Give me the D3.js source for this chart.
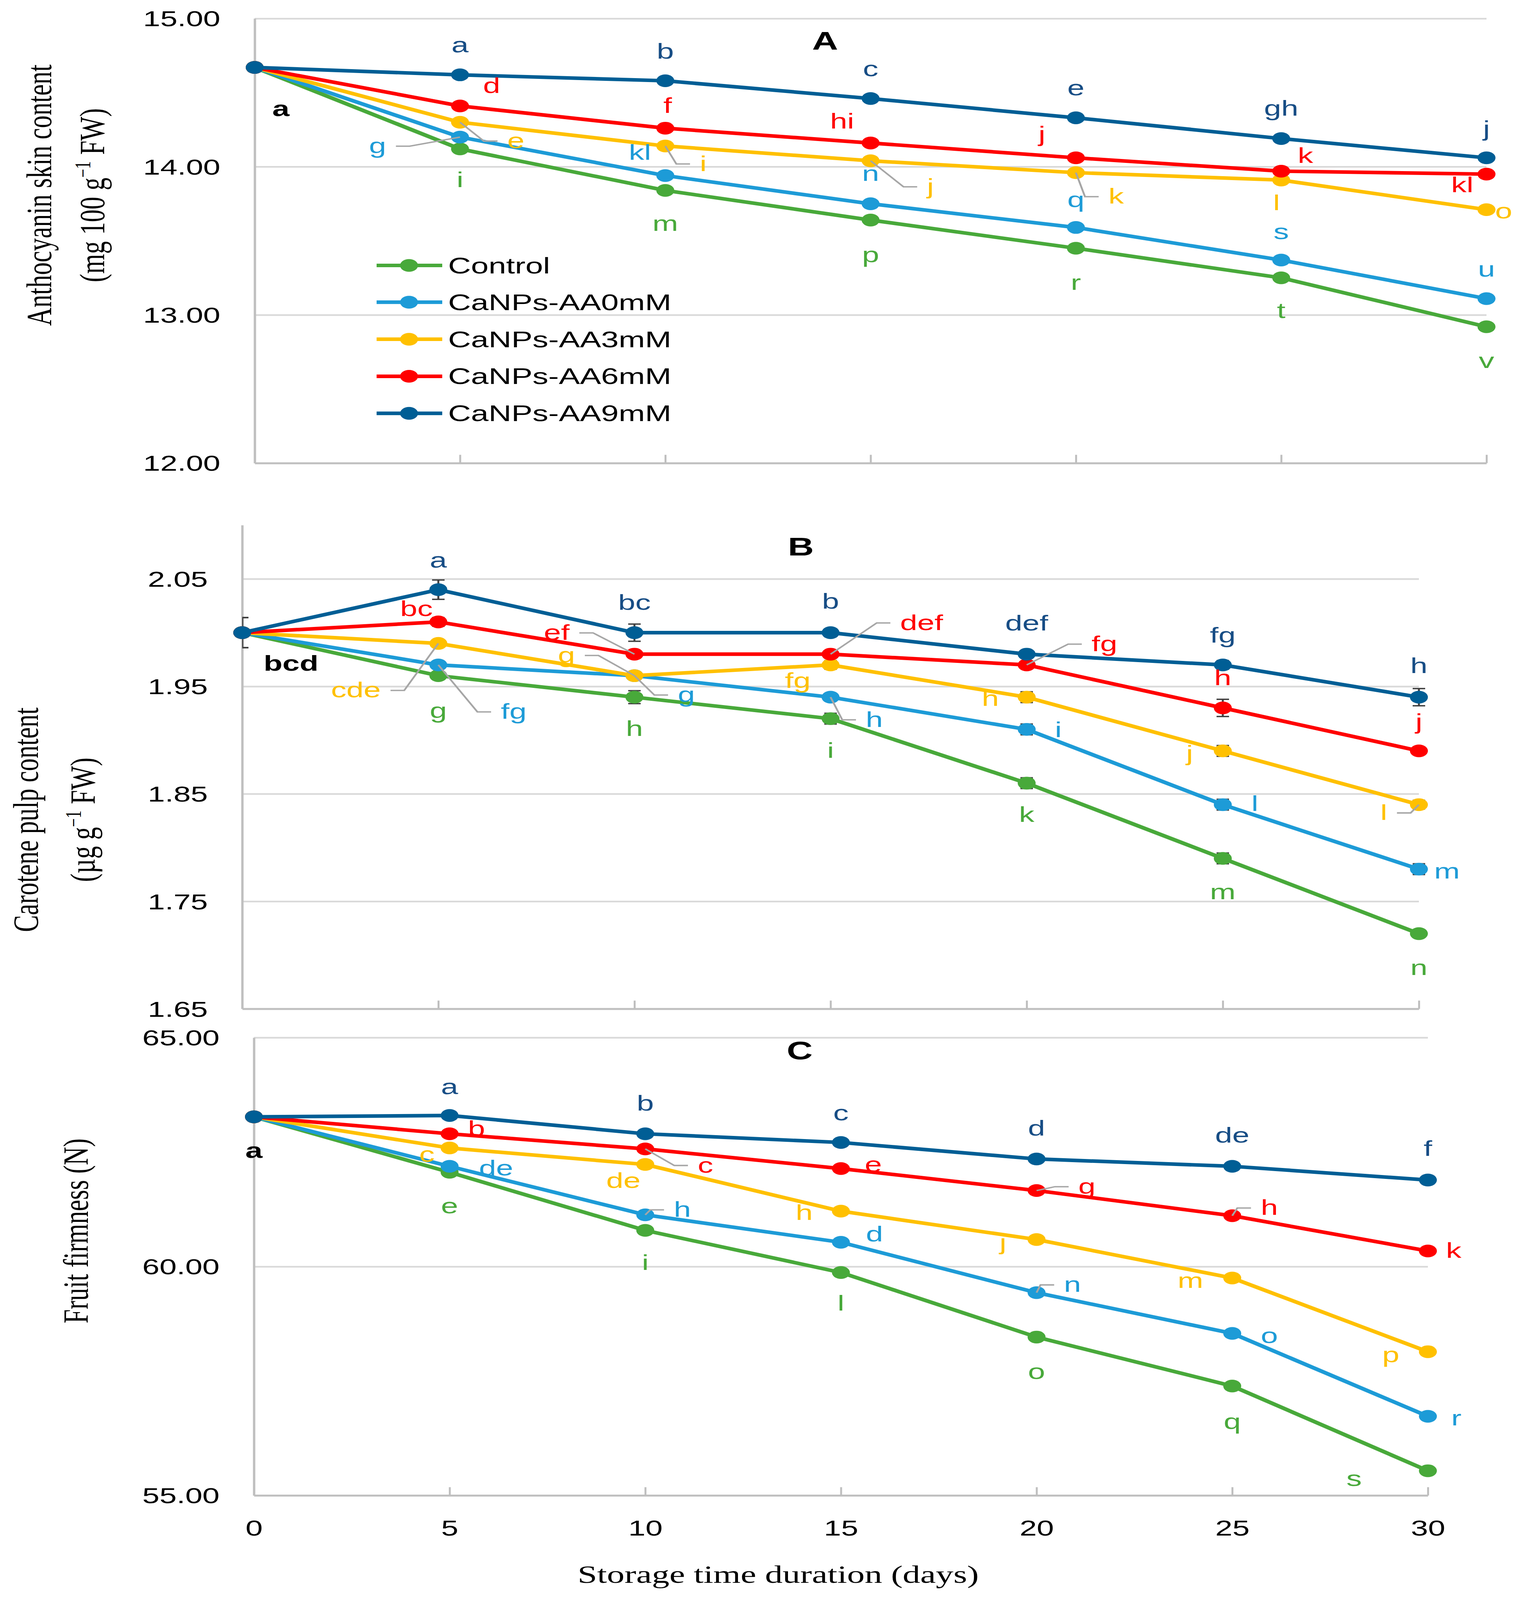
<!DOCTYPE html>
<html>
<head>
<meta charset="utf-8">
<script src="https://cdn.jsdelivr.net/npm/d3@7"></script>
<style>
  html, body { margin: 0; background: #fff; overflow: hidden; }
  svg { display: block; }
</style>
</head>
<body>
<div class="chart"></div>
<script>
// ---- data ----
const days = [0, 5, 10, 15, 20, 25, 30];
const seriesNames = ["Control", "CaNPs-AA0mM", "CaNPs-AA3mM", "CaNPs-AA6mM", "CaNPs-AA9mM"];

// A: anthocyanin skin content (mg 100 g-1 FW)
const anthoControl = [14.67, 14.12, 13.84, 13.64, 13.45, 13.25, 12.92];
const anthoAA0     = [14.67, 14.20, 13.94, 13.75, 13.59, 13.37, 13.11];
const anthoAA3     = [14.67, 14.30, 14.14, 14.04, 13.96, 13.91, 13.71];
const anthoAA6     = [14.67, 14.41, 14.26, 14.16, 14.06, 13.97, 13.95];
const anthoAA9     = [14.67, 14.62, 14.58, 14.46, 14.33, 14.19, 14.06];
const anthoTicks = [12, 13, 14, 15];
const anthoLetters = [
  ["i", "m", "p", "r", "t", "v"],
  ["g", "kl", "n", "q", "s", "u"],
  ["e", "i", "j", "k", "l", "o"],
  ["d", "f", "hi", "j", "k", "kl"],
  ["a", "b", "c", "e", "gh", "j"]
];

// B: carotene pulp content (ug g-1 FW)
const caroControl = [2.00, 1.96, 1.94, 1.92, 1.86, 1.79, 1.72];
const caroAA0     = [2.00, 1.97, 1.96, 1.94, 1.91, 1.84, 1.78];
const caroAA3     = [2.00, 1.99, 1.96, 1.97, 1.94, 1.89, 1.84];
const caroAA6     = [2.00, 2.01, 1.98, 1.98, 1.97, 1.93, 1.89];
const caroAA9     = [2.00, 2.04, 2.00, 2.00, 1.98, 1.97, 1.94];
const caroErrControl = [0.014, 0.003, 0.006, 0.005, 0.005, 0.005, 0.003];
const caroErrAA0     = [0.014, 0.003, 0.003, 0.003, 0.005, 0.005, 0.005];
const caroErrAA3     = [0.014, 0.003, 0.003, 0.004, 0.005, 0.005, 0.004];
const caroErrAA6     = [0.014, 0.004, 0.003, 0.003, 0.003, 0.008, 0.003];
const caroErrAA9     = [0.014, 0.009, 0.008, 0.003, 0.003, 0.004, 0.008];
const caroTicks = [1.65, 1.75, 1.85, 1.95, 2.05];
const caroLetters = [
  ["g", "h", "i", "k", "m", "n"],
  ["fg", "g", "h", "i", "l", "m"],
  ["cde", "g", "fg", "h", "j", "l"],
  ["bc", "ef", "def", "fg", "h", "j"],
  ["a", "bc", "b", "def", "fg", "h"]
];

// C: fruit firmness (N)
const firmControl = [63.27, 62.06, 60.79, 59.87, 58.46, 57.39, 55.54];
const firmAA0     = [63.27, 62.19, 61.13, 60.53, 59.43, 58.54, 56.73];
const firmAA3     = [63.27, 62.59, 62.23, 61.21, 60.59, 59.75, 58.14];
const firmAA6     = [63.27, 62.90, 62.57, 62.14, 61.66, 61.11, 60.34];
const firmAA9     = [63.27, 63.30, 62.90, 62.71, 62.35, 62.19, 61.89];
const firmTicks = [55, 60, 65];
const firmLetters = [
  ["e", "i", "l", "o", "q", "s"],
  ["de", "h", "d", "n", "o", "r"],
  ["c", "de", "h", "j", "m", "p"],
  ["b", "c", "e", "g", "h", "k"],
  ["a", "b", "c", "d", "de", "f"]
];

// ---- layout / style ----
const W = 3901, H = 5787;
const colors = ["#48a93a", "#1d9bd7", "#ffc000", "#ff0000", "#005e95"];
const textColors = ["#48a93a", "#1d9bd7", "#ffc000", "#ff0000", "#174d85"];
const numFont = "'Liberation Sans', Arial, sans-serif";
const serifFont = "'Liberation Serif', 'DejaVu Serif', serif";
const tickSize = 79, letterSize = 79;

// label offsets in px from the point, days 5..30
const offA = [
  [[0, 113], [0, 121], [0, 127], [0, 125], [0, 120], [0, 124]],
  [[-211, 33], [-65, -83], [0, -108], [0, -99], [0, -102], [0, -105]],
  [[143, 68], [97, 65], [153, 94], [103, 87], [-12, 83], [44, 6]],
  [[81, -72], [6, -81], [-73, -78], [-87, -85], [62, -55], [-62, 40]],
  [[0, -106], [0, -106], [0, -106], [0, -106], [0, -108], [0, -104]]
];
const offB = [
  [[0, 128], [0, 115], [0, 116], [0, 115], [0, 122], [0, 124]],
  [[193, 170], [133, 70], [112, 82], [81, 2], [82, -2], [72, 8]],
  [[-211, 170], [-174, -73], [-84, 58], [-93, 6], [-85, 10], [-90, 30]],
  [[-56, -46], [-199, -77], [233, -113], [199, -75], [0, -108], [0, -105]],
  [[0, -105], [0, -108], [0, -112], [0, -111], [0, -106], [0, -112]]
];
const offC = [
  [[0, 123], [0, 117], [0, 112], [0, 126], [0, 130], [-189, 29]],
  [[119, 7], [95, -18], [86, -28], [92, -28], [95, 9], [73, 7]],
  [[-58, 25], [-56, 60], [-94, 7], [-86, 11], [-107, 10], [-95, 13]],
  [[69, -18], [154, 60], [83, -14], [129, -14], [95, -28], [66, 0]],
  [[0, -103], [0, -109], [0, -106], [0, -110], [0, -111], [0, -112]]
];
// [series, day index] of labels that have a leader line
const leadA = [[1, 1], [2, 1], [2, 2], [2, 3], [2, 4]];
const leadB = [[1, 1], [1, 2], [1, 3], [2, 1], [2, 2], [2, 6], [3, 2], [3, 3], [3, 4]];
const leadC = [[1, 2], [1, 4], [3, 2], [3, 4], [3, 5]];

const panels = [
  {
    name: "A", series: [anthoControl, anthoAA0, anthoAA3, anthoAA6, anthoAA9],
    letters: anthoLetters, offsets: offA, leaders: leadA, first: "a", firstOff: [67, 150],
    xr: [652, 3805], yr: [1675, 67], domain: [12, 15], ticks: anthoTicks,
    fmt: d3.format(".2f"), showX: false, tag: [2112, 147],
    titles: [
      { x: 131, y: 706, parts: [["Anthocyanin skin content"]] },
      { x: 267, y: 706, parts: [["(mg 100 g"], ["\u22121", true], [" FW)"]] }
    ]
  },
  {
    name: "B", series: [caroControl, caroAA0, caroAA3, caroAA6, caroAA9],
    errors: [caroErrControl, caroErrAA0, caroErrAA3, caroErrAA6, caroErrAA9],
    letters: caroLetters, offsets: offB, leaders: leadB, first: "bcd", firstOff: [125, 112],
    xr: [620, 3632], yr: [3649, 1899.5], domain: [1.65, 2.10], ticks: caroTicks,
    fmt: d3.format(".2f"), showX: false, tag: [2050, 1976],
    titles: [
      { x: 97, y: 2965, parts: [["Carotene pulp content"]] },
      { x: 243, y: 2965, parts: [["(\u00b5g g"], ["\u22121", true], [" FW)"]] }
    ]
  },
  {
    name: "C", series: [firmControl, firmAA0, firmAA3, firmAA6, firmAA9],
    letters: firmLetters, offsets: offC, leaders: leadC, first: "a", firstOff: [0, 123],
    xr: [650, 3655], yr: [5409, 3753], domain: [55, 65], ticks: firmTicks,
    fmt: d3.format(".2f"), showX: true, tag: [2047, 3798],
    titles: [
      { x: 225, y: 4452, parts: [["Fruit firmness (N)"]] }
    ]
  }
];

// the drawing is laid out on a 3901 x 5787 canvas and stretched to fill the window
const svg = d3.select(".chart")
  .append("svg")
    .attr("width", window.innerWidth || W)
    .attr("height", window.innerHeight || H)
    .attr("viewBox", `0 0 ${W} ${H}`)
    .attr("preserveAspectRatio", "none");

svg.append("rect").attr("width", W).attr("height", H).attr("fill", "#fff");
const root = svg.append("g");

let drawPanel = (p) => {
  let g = root.append("g");
  let x = d3.scaleLinear().domain([0, 30]).range(p.xr);
  let y = d3.scaleLinear().domain(p.domain).range(p.yr);
  let w = p.xr[1] - p.xr[0];

  // gridlines (all ticks above the bottom one)
  let grid = g.append("g")
    .attr("transform", `translate(${p.xr[0]},0)`)
    .call(d3.axisLeft(y).tickValues(p.ticks.slice(1)).tickSize(-w).tickFormat(""));
  grid.select(".domain").remove();
  grid.selectAll("line").attr("stroke", "#d9d9d9").attr("stroke-width", 6);

  // y axis
  let yAxis = g.append("g")
    .attr("transform", `translate(${p.xr[0]},0)`)
    .call(d3.axisLeft(y).tickValues(p.ticks).tickFormat(p.fmt).tickSize(0).tickPadding(88));
  yAxis.select(".domain").attr("stroke", "#bfbfbf").attr("stroke-width", 6);
  yAxis.selectAll("text")
    .attr("font-family", numFont).attr("font-size", tickSize).attr("fill", "#000")
    .attr("dy", "0.35em");

  // x axis, inside ticks
  let xAxis = g.append("g")
    .attr("transform", `translate(0,${y(p.domain[0])})`)
    .call(d3.axisBottom(x).tickValues(days).tickSizeInner(-30).tickSizeOuter(0)
      .tickPadding(89).tickFormat(p.showX ? d3.format("d") : ""));
  xAxis.select(".domain").attr("stroke", "#bfbfbf").attr("stroke-width", 7);
  xAxis.selectAll("line").attr("stroke", "#bfbfbf").attr("stroke-width", 5);
  xAxis.selectAll("text")
    .attr("font-family", numFont).attr("font-size", tickSize).attr("fill", "#000");

  // axis titles
  p.titles.forEach(t => {
    let txt = g.append("text")
      .attr("transform", `translate(${t.x},${t.y}) rotate(-90)`)
      .attr("text-anchor", "middle")
      .attr("font-family", serifFont).attr("font-size", 92).attr("fill", "#000");
    t.parts.forEach((part, k) => {
      let ts = txt.append("tspan").text(part[0]);
      if (part[1]) ts.attr("font-size", 56).attr("dy", -36);
      else if (k > 0) ts.attr("dy", 36);
    });
  });

  // clip for error bars
  let clipId = "clip" + p.name;
  g.append("clipPath").attr("id", clipId)
    .append("rect")
    .attr("x", p.xr[0]).attr("y", p.yr[1])
    .attr("width", w + 60).attr("height", p.yr[0] - p.yr[1]);

  let line = d3.line().x((d, i) => x(days[i])).y(d => y(d));

  p.series.forEach((vals, si) => {
    let sg = g.append("g");
    sg.append("path")
      .datum(vals)
      .attr("d", line)
      .attr("fill", "none")
      .attr("stroke", colors[si])
      .attr("stroke-width", 13)
      .attr("stroke-linejoin", "round");

    if (p.errors) {
      let eg = sg.append("g").attr("clip-path", `url(#${clipId})`)
        .attr("stroke", "#404040").attr("stroke-width", 5);
      vals.forEach((v, i) => {
        let e = p.errors[si][i];
        let cx = x(days[i]);
        eg.append("line").attr("x1", cx).attr("x2", cx).attr("y1", y(v - e)).attr("y2", y(v + e));
        [v - e, v + e].forEach(vv => {
          eg.append("line").attr("x1", cx - 16).attr("x2", cx + 16)
            .attr("y1", y(vv)).attr("y2", y(vv));
        });
      });
    }

    sg.selectAll("circle")
      .data(vals)
      .enter()
      .append("circle")
      .attr("cx", (d, i) => x(days[i]))
      .attr("cy", d => y(d))
      .attr("r", 23)
      .attr("fill", colors[si]);
  });

  // significance letters
  let leaderSet = new Set(p.leaders.map(l => l[0] + "-" + l[1]));
  let leaderG = g.append("g").attr("fill", "none").attr("stroke", "#a6a6a6").attr("stroke-width", 5);
  let labelG = g.append("g");
  p.series.forEach((vals, si) => {
    p.letters[si].forEach((txt, k) => {
      let di = k + 1;
      let px = x(days[di]), py = y(vals[di]);
      let off = p.offsets[si][k];
      let lx = px + off[0], ly = py + off[1];
      let t = labelG.append("text")
        .attr("x", lx).attr("y", ly)
        .attr("text-anchor", "middle")
        .attr("dy", "0.32em")
        .attr("font-family", numFont).attr("font-size", letterSize)
        .attr("fill", textColors[si])
        .text(txt);
      if (leaderSet.has(si + "-" + di)) {
        let half = t.node().getComputedTextLength() / 2;
        let sgn = lx > px ? 1 : -1;
        let endX = lx - sgn * (half + 25);
        let elbowX = endX - sgn * 35;
        leaderG.append("polyline")
          .attr("points", `${px},${py} ${elbowX},${ly} ${endX},${ly}`);
      }
    });
  });

  // shared letter at day 0
  labelG.append("text")
    .attr("x", x(0) + p.firstOff[0]).attr("y", y(p.series[0][0]) + p.firstOff[1])
    .attr("text-anchor", "middle").attr("dy", "0.32em")
    .attr("font-family", numFont).attr("font-size", letterSize).attr("font-weight", "bold")
    .attr("fill", "#000")
    .text(p.first);

  // panel tag
  g.append("text")
    .attr("x", p.tag[0]).attr("y", p.tag[1])
    .attr("text-anchor", "middle").attr("dy", "0.36em")
    .attr("font-family", numFont).attr("font-size", 92).attr("font-weight", "bold")
    .attr("fill", "#000")
    .text(p.name);
};

panels.forEach(drawPanel);

// legend (inside panel A)
const legendRows = [960, 1093, 1227, 1361, 1495];
let lg = root.append("g");
seriesNames.forEach((name, i) => {
  let row = lg.append("g").attr("transform", `translate(0,${legendRows[i]})`);
  row.append("line").attr("x1", 964).attr("x2", 1132).attr("y1", 0).attr("y2", 0)
    .attr("stroke", colors[i]).attr("stroke-width", 13);
  row.append("circle").attr("cx", 1047).attr("cy", 0).attr("r", 23).attr("fill", colors[i]);
  row.append("text").attr("x", 1147).attr("y", 0).attr("dy", "0.35em")
    .attr("font-family", numFont).attr("font-size", 81).attr("fill", "#000")
    .text(name);
});

// shared x axis title
root.append("text")
  .attr("x", 1992).attr("y", 5725)
  .attr("text-anchor", "middle")
  .attr("font-family", serifFont).attr("font-size", 90).attr("fill", "#000")
  .text("Storage time duration (days)");
</script>
</body>
</html>
